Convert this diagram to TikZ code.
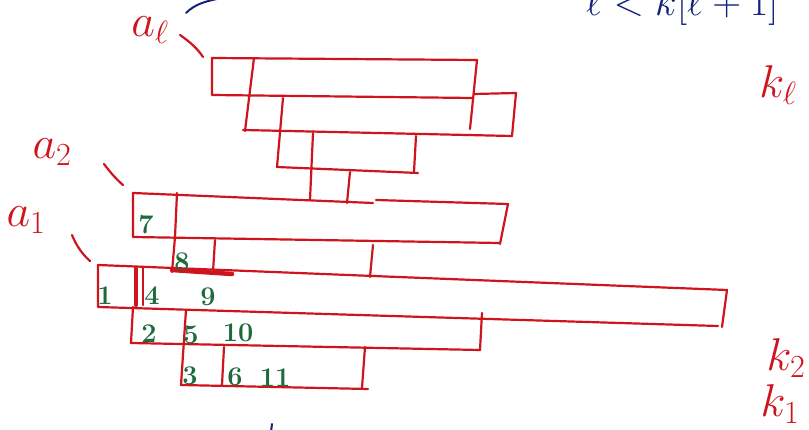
\documentclass[tikz,border=0pt]{standalone}
\usepackage{fix-cm}
\usepackage{xcolor}
\usepackage{tikz}
\usetikzlibrary{positioning}
\definecolor{wred}{HTML}{D0141E}
\definecolor{wgreen}{HTML}{1D6B3C}
\definecolor{wblue}{HTML}{14237A}
\tikzset{
  wline/.style={draw=wred, line width=2.2pt, line cap=round, line join=round},
  wnum/.style={text=wgreen, font=\fontsize{27}{27}\selectfont\bfseries, inner sep=0pt},
  wlbl/.style={text=wred, font=\fontsize{46}{46}\selectfont, inner sep=0pt},
}
\begin{document}
\begin{tikzpicture}[x=1pt, y=-1pt]
\useasboundingbox (0,0) rectangle (809,430);
\fill[white] (0,0) rectangle (809,430);
% blue fragments cut by the edge
\node[text=wblue, font=\fontsize{40}{40}\selectfont, anchor=base west, inner sep=0pt]
  (cond) at (586,16) {$\ell < k[\ell+1]$};
\draw[draw=wblue, line width=2pt, line cap=round] (186,13) .. controls (195,4) and (206,1) .. (222,-2);
\draw[draw=wblue, line width=2pt, line cap=round] (272,424) -- (271,432);
% top block, level a_l
\draw[wline] (212,58) -- (477,60);
\draw[wline] (212,58) -- (212,95) -- (473,98);
\draw[wline] (254,58) -- (245,131);
\draw[wline] (477,60) -- (470,129);
\draw[wline] (474,94) -- (516,93) -- (512,136);
\draw[wline] (243,130) -- (512,136);
\draw[wline] (283,98) -- (277,167) -- (418,173);
\draw[wline] (416,136) -- (414,172);
\draw[wline] (313,133) -- (310,200);
\draw[wline] (350,172) -- (347,203);
% row a_2
\draw[wline] (133,193) -- (373,203);
\draw[wline] (376,200) -- (508,204) -- (500,244);
\draw[wline] (133,193) -- (133,237) -- (500,243);
\draw[wline] (177,193) -- (175,237);
\draw[wline] (175,237) -- (172,272);
\draw[wline] (215,240) -- (213,272);
\draw[wline] (373,245) -- (370,277);
% row a_1
\draw[wline] (98,265) -- (373,276) -- (727,290) -- (722,327);
\draw[wline] (98,265) -- (98,307) -- (718,326);
\draw[wline, line width=4.5pt] (172,270) -- (232,274);
\draw[wline, line width=4.5pt] (136,268) -- (136,305);
\draw[wline] (143,268) -- (143,305);
\draw[wline] (133,307) -- (131,343) -- (480,350);
\draw[wline] (482,313) -- (480,350);
\draw[wline] (186,310) -- (181,385) -- (368,389);
\draw[wline] (224,347) -- (222,385);
\draw[wline] (365,347) -- (362,388);
% ticks beside the labels
\draw[wline] (180,35) .. controls (190,42) and (197,48) .. (203,57);
\draw[wline] (104,164) .. controls (110,172) and (116,179) .. (123,185);
\draw[wline] (72,235) .. controls (76,245) and (82,254) .. (90,261);
% labels
\node[wlbl] (al) at (150,30) {$a_\ell$};
\node[wlbl] (a2) at (52,152) {$a_2$};
\node[wlbl] (a1) at (26,220) {$a_1$};
\node[wlbl] (kl) at (778,85) {$k_\ell$};
\node[wlbl] (k2) at (786,358) {$k_2$};
\node[wlbl] (k1) at (780,404) {$k_1$};
% cell numbers
\node[wnum] (n1) at (105,296) {1};
\node[wnum] (n2) at (149,334) {2};
\node[wnum] (n3) at (190,376) {3};
\node[wnum] (n4) at (152,296) {4};
\node[wnum] (n5) at (191,335) {5};
\node[wnum] (n6) at (235,377) {6};
\node[wnum] (n7) at (146,225) {7};
\node[wnum] (n8) at (182,262) {8};
\node[wnum] (n9) at (208,297) {9};
\node[wnum] (n10) at (238,333) {10};
\node[wnum] (n11) at (275,378) {11};
\end{tikzpicture}
\end{document}
